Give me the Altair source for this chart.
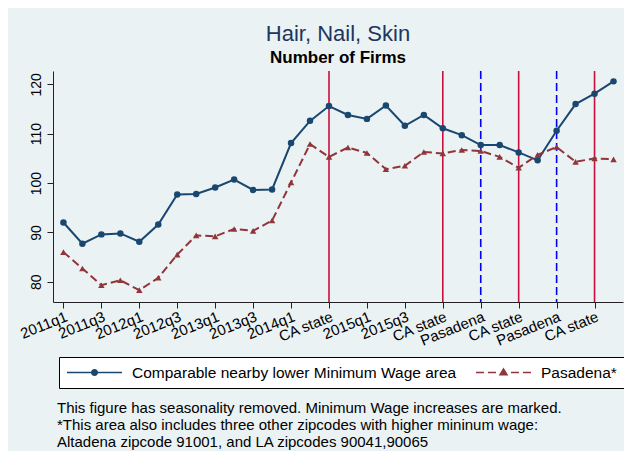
import math
import altair as alt
import pandas as pd

# ---------------- data ----------------
quarter_idx = list(range(30))  # 2011q1 .. 2018q2
comparable = [92.0, 87.7, 89.6, 89.8, 88.1, 91.6, 97.7, 97.8, 99.1, 100.7,
              98.6, 98.7, 108.1, 112.6, 115.6, 113.8, 113.0, 115.7, 111.6, 113.8,
              111.1, 109.7, 107.7, 107.7, 106.2, 104.6, 110.6, 116.0, 118.1, 120.6]
pasadena = [86.0, 82.7, 79.3, 80.3, 78.3, 80.8, 85.5, 89.4, 89.2, 90.7,
            90.3, 92.4, 100.1, 107.9, 105.3, 107.2, 106.1, 102.8, 103.5, 106.3,
            106.0, 106.7, 106.5, 105.3, 103.1, 105.7, 107.3, 104.3, 105.0, 104.8]
series_names = ["Comparable nearby lower Minimum Wage area", "Pasadena*"]
tick_pos = list(range(0, 30, 2))
tick_labels = ["2011q1", "2011q3", "2012q1", "2012q3", "2013q1", "2013q3", "2014q1",
               "CA state", "2015q1", "2015q3", "CA state", "Pasadena", "CA state",
               "Pasadena", "CA state"]
ca_state_idx = [14, 20, 24, 28]
pasadena_idx = [22, 26]
y_ticks = [80, 90, 100, 110, 120]
note_lines = [
    "This figure has seasonality removed. Minimum Wage increases are marked.",
    "*This area also includes three other zipcodes with higher mininum wage:",
    "Altadena zipcode 91001, and LA zipcodes 90041,90065",
]

# ---------------- style ----------------
NAVY = "#1a476f"
MAROON = "#90353b"
BG = "#eaf2f3"
FONT = "Liberation Sans"

df = pd.DataFrame({
    "q": quarter_idx + quarter_idx,
    "value": comparable + pasadena,
    "series": [series_names[0]] * len(comparable) + [series_names[1]] * len(pasadena),
})

# custom legend symbols (line + marker), built in pixel units then scaled
U = 7.5  # half of sqrt(symbolSize)


def f(v):
    return f"{v / U:.3f}"


def circle_path(cx, cy, r, n=16):
    pts = [(cx + r * math.cos(2 * math.pi * k / n), cy + r * math.sin(2 * math.pi * k / n))
           for k in range(n)]
    s = "M" + f(pts[0][0]) + "," + f(pts[0][1])
    for x, y in pts[1:]:
        s += "L" + f(x) + "," + f(y)
    return s + "Z"


blue_path = "M" + f(-7.5) + ",0L" + f(47.5) + ",0" + circle_path(20, 0, 2.8)
red_path = ""
for a, b in [(-7.5, 0.5), (4.5, 12.5), (27.5, 35.5), (39.5, 47.5)]:
    red_path += "M" + f(a) + ",0L" + f(b) + ",0"
red_path += ("M" + f(16.5) + "," + f(2.3) + "L" + f(23.5) + "," + f(2.3)
             + "L" + f(20) + "," + f(-3.6) + "Z")

x_axis = alt.Axis(
    values=tick_pos,
    labelExpr="[" + ",".join(f"'{t}'" for t in tick_labels) + "][floor(datum.value / 2)]",
    labelAngle=-22, labelAlign="right", labelBaseline="top", labelPadding=1,
    labelFontSize=15, labelColor="black", labelFont=FONT,
    tickSize=6, tickColor="#222", domainColor="#222", grid=False, title=None,
    labelOverlap=False,
)
y_axis = alt.Axis(
    values=y_ticks, labelAngle=-90, labelAlign="center", labelBaseline="bottom",
    labelPadding=4, labelFontSize=14, labelColor="black", labelFont=FONT,
    tickSize=6, tickColor="#222", domainColor="#222",
    grid=True, gridColor=BG, gridWidth=1.5, title=None,
)
x_enc = alt.X("q:Q", scale=alt.Scale(domain=[-0.55, 29.5], nice=False, zero=False), axis=x_axis)
y_enc = alt.Y("value:Q", scale=alt.Scale(domain=[75.9, 122.7], nice=False, zero=False), axis=y_axis)

ca_rules = alt.Chart(pd.DataFrame({"q": ca_state_idx})).mark_rule(
    color="#c8103c", strokeWidth=1.6).encode(x=x_enc)
pas_rules = alt.Chart(pd.DataFrame({"q": pasadena_idx})).mark_rule(
    color="#0000ff", strokeWidth=1.6, strokeDash=[8, 4]).encode(x=x_enc)

base_a = alt.Chart(df).transform_filter(alt.datum.series == series_names[0])
base_b = alt.Chart(df).transform_filter(alt.datum.series == series_names[1])

line_a = base_a.mark_line(color=NAVY, strokeWidth=2).encode(x=x_enc, y=y_enc)
line_b = base_b.mark_line(color=MAROON, strokeWidth=2, strokeDash=[8, 4]).encode(x=x_enc, y=y_enc)
pts_a = base_a.mark_point(filled=True, shape="circle", size=42, opacity=1, color=NAVY).encode(x=x_enc, y=y_enc)
pts_b = base_b.mark_point(filled=True, shape="triangle-up", size=42, opacity=1, color=MAROON).encode(x=x_enc, y=y_enc)

leg = alt.Legend(
    orient="none", legendX=6, legendY=286, direction="horizontal",
    title=None, strokeColor="black", fillColor="white", padding=7,
    symbolSize=225, symbolStrokeWidth=1.5, symbolOpacity=1, labelFontSize=15.5,
    labelFont=FONT, labelColor="black", labelOffset=49,
    columnPadding=16, labelLimit=1000,
)
legend_layer = alt.Chart(pd.DataFrame({"series": series_names})).transform_filter(
    "false"
).mark_point(opacity=0).encode(
    fill=alt.Fill("series:N", scale=alt.Scale(domain=series_names, range=[NAVY, MAROON]), legend=leg),
    stroke=alt.Stroke("series:N", scale=alt.Scale(domain=series_names, range=[NAVY, MAROON]), legend=leg),
    shape=alt.Shape("series:N", scale=alt.Scale(domain=series_names, range=[blue_path, red_path]), legend=leg),
)

note = alt.Chart(pd.DataFrame({"k": [0]})).mark_text(
    align="left", baseline="alphabetic", fontSize=15, lineHeight=17, font=FONT, color="black"
).encode(x=alt.value(4), y=alt.value(342), text=alt.value(note_lines))

chart = alt.layer(ca_rules, pas_rules, line_a, line_b, pts_a, pts_b, legend_layer, note).properties(
    width=570, height=231,
    autosize=alt.AutoSizeParams(type="none"),
    padding={"left": 45, "top": 63, "right": 1, "bottom": 149},
    title=alt.Title(
        "Hair, Nail, Skin", subtitle="Number of Firms", fontSize=22, fontWeight="normal",
        color="#1e3560", font=FONT, subtitleFont=FONT, subtitleFontSize=17,
        subtitleFontWeight="bold", subtitleColor="black", anchor="middle",
        offset=3, subtitlePadding=4,
    ),
).configure(background=BG, font=FONT).configure_view(
    fill="white", strokeWidth=0
).configure_axis(labelFont=FONT, labelColor="black")

chart.save("out.html", embed_options={"renderer": "svg", "actions": False})
